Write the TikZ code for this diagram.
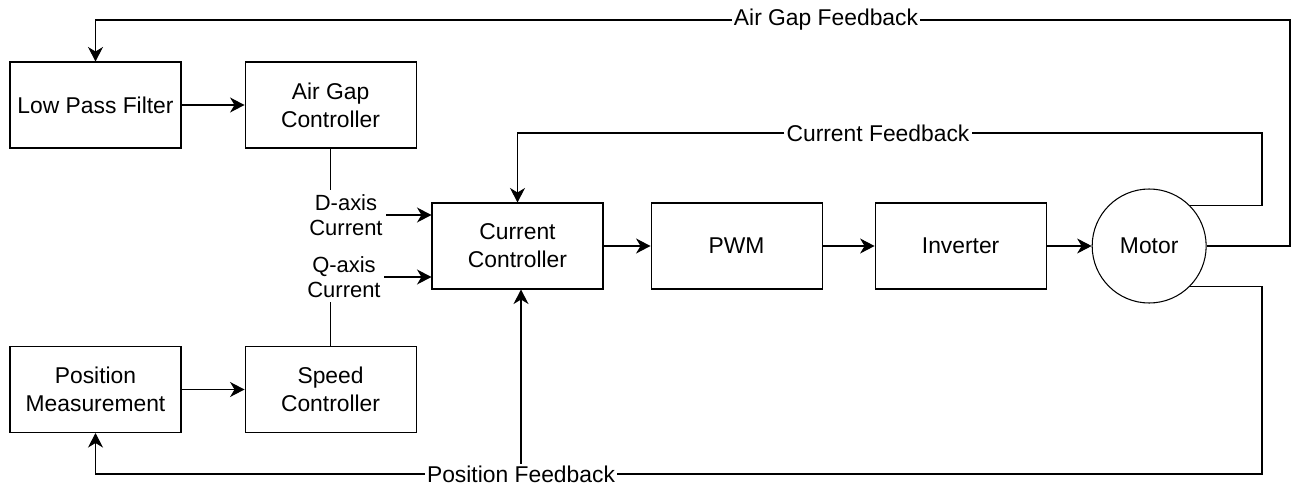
\documentclass[tikz,border=0pt]{standalone}
\usepackage{fontspec}
\setmainfont{Liberation Sans}
\usetikzlibrary{arrows.meta,positioning,shapes.geometric}

\begin{document}
\begin{tikzpicture}[
  node distance=1.26cm,
  block/.style={draw,rectangle,minimum width=3.42cm,minimum height=1.72cm,font=\fontsize{13}{16}\selectfont,align=center,line width=0.6pt},
  motorc/.style={draw,circle,minimum size=2.28cm,inner sep=0pt,font=\fontsize{13}{16}\selectfont,line width=0.6pt},
  sig/.style={font=\fontsize{12.5}{14.5}\selectfont,align=center,inner sep=2pt},
  fbtext/.style={font=\fontsize{13}{16}\selectfont,inner sep=1pt},
  wire/.style={line width=0.6pt},
  arr/.style={wire,-{Stealth[length=2.9mm,width=3mm,inset=0.9mm]}}
]
\useasboundingbox (0,0) rectangle (25.84,-9.70);

% Outer loops: air gap and speed
\node[block] (lpf) at (1.91,-2.10) {Low Pass Filter};
\node[block,right=of lpf] (agc) {Air Gap\\Controller};
\node[block] (pm) at (1.91,-7.79) {Position\\Measurement};
\node[block,right=of pm] (spd) {Speed\\Controller};

% Inner current loop
\node[block] (cc) at (10.35,-4.92) {Current\\Controller};
\node[block,right=0.94cm of cc] (pwm) {PWM};
\node[block,right=1.04cm of pwm] (inv) {Inverter};
\node[motorc,right=0.9cm of inv] (motor) {Motor};

% Reference currents
\node[sig,anchor=east] (dlab) at ([xshift=-0.9cm,yshift=0.62cm]cc.west) {D-axis\\Current};
\node[sig,anchor=east] (qlab) at ([xshift=-0.94cm,yshift=-0.62cm]cc.west) {Q-axis\\Current};

% Feedback labels and corners
\node[fbtext] (agfb) at (16.52,-0.40) {Air Gap Feedback};
\node[fbtext] (cfb) at (17.56,-2.66) {Current Feedback};
\node[fbtext] (pfb) at (10.42,-9.48) {Position Feedback};
\coordinate (agturn) at (25.80,-0.40);
\coordinate (cfturn) at (25.24,-2.66);
\coordinate (pfturn) at (25.24,-9.48);

% Forward path
\draw[arr] (lpf) -- (agc);
\draw[arr] (pm) -- (spd);
\draw[wire] (agc.south) -- (agc.south |- dlab.north);
\draw[wire] (spd.north) -- (spd.north |- qlab.south);
\draw[arr] (dlab.east) -- (dlab.east -| cc.west);
\draw[arr] (qlab.east) -- (qlab.east -| cc.west);
\draw[arr] (cc) -- (pwm);
\draw[arr] (pwm) -- (inv);
\draw[arr] (inv) -- (motor);

% Feedback paths
\draw[wire] (motor.east) -| (agturn) -- (agfb.east);
\draw[arr] (agfb.west) -| (lpf.north);
\draw[wire] (motor.45) -| (cfturn) -- (cfb.east);
\draw[arr] (cfb.west) -| (cc.north);
\draw[wire] (motor.-45) -| (pfturn) -- (pfb.east);
\draw[arr] (pfb.west) -| (pm.south);
\draw[arr] (pfb.north) -- (pfb.north |- cc.south);

\end{tikzpicture}
\end{document}
